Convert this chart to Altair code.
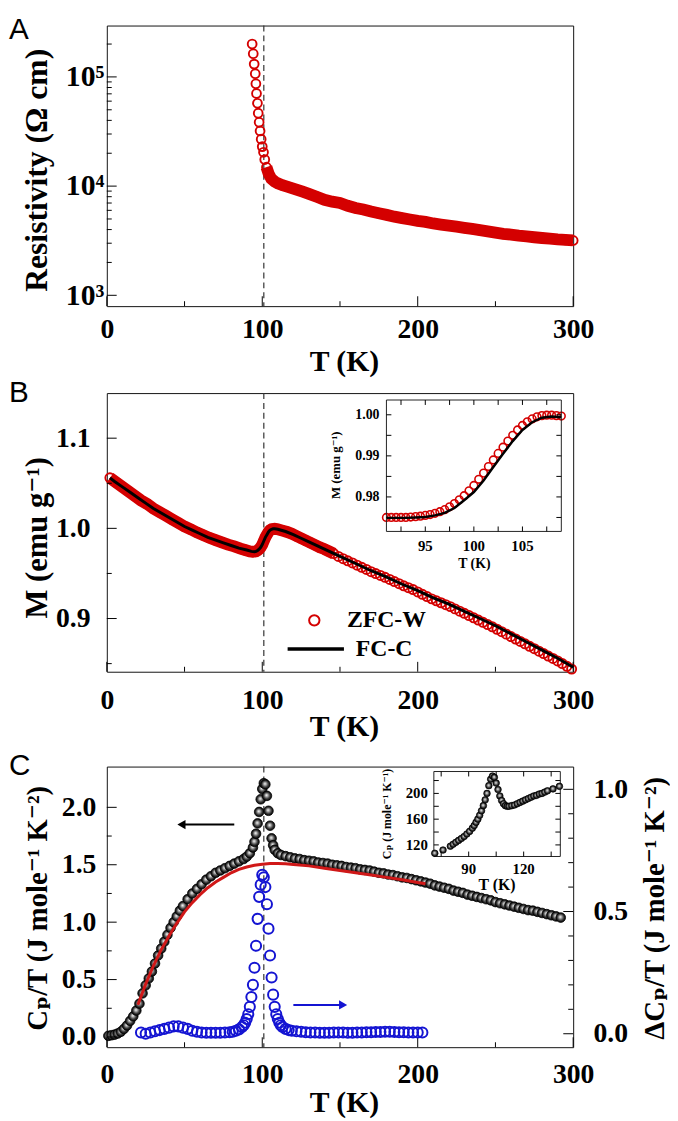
import altair as alt
import pandas as pd

SERIF = "Liberation Serif, DejaVu Serif, DejaVu Sans"
SANS = "Liberation Sans, DejaVu Sans"
RED = "#d40000"
FIT_RED = "#d01818"
BLUE = "#1414d2"

# ===================== Panel A : resistivity =====================
rho_T = [93.5, 94.2, 94.8, 95.5, 95.9, 96.3, 96.9, 97.4, 98.0, 98.6, 99.3, 100.0, 100.8, 101.6, 102.7, 104.1, 105.8,
         108, 110, 113, 116, 119, 122, 126, 130,
         135, 140, 145, 150, 155, 160, 165, 170, 175, 180, 185, 190, 195, 200, 205, 210, 215, 220, 225, 230,
         235, 240, 245, 250, 255, 260, 265, 270, 275, 280, 285, 290, 295, 300]
rho_val = [200000, 163000, 131000, 107000, 86500, 70600, 57300, 46500, 38400, 32000, 26900, 23000, 20400, 17500,
           14900, 13000, 11700,
           11000, 10600, 10200, 9900, 9600, 9300, 8900, 8500,
           8000, 7500, 7200, 7000, 6600, 6300, 6100, 5850, 5650, 5450, 5250, 5100, 4950, 4800, 4700, 4550, 4450,
           4350, 4250, 4150, 4050, 3950, 3850, 3750, 3650, 3600, 3520, 3460, 3400, 3350, 3300, 3250, 3220, 3180]

# ===================== Panel B : magnetisation =====================
zfc_pairs = [(2, 1.056), (6, 1.051), (10, 1.046), (14, 1.041), (18, 1.036), (22, 1.031), (26, 1.027), (30, 1.022),
             (34, 1.018), (38, 1.014), (42, 1.010), (46, 1.006), (50, 1.002), (54, 0.999), (58, 0.9955),
             (62, 0.9925), (66, 0.9895), (70, 0.987), (74, 0.9845), (78, 0.982), (82, 0.980), (86, 0.9775),
             (89, 0.976), (92, 0.9745), (94, 0.974), (96, 0.9745), (97, 0.9755), (98, 0.977), (99, 0.979),
             (100, 0.982), (101, 0.986), (102, 0.990), (103, 0.993), (104, 0.996), (105, 0.998), (106, 0.999),
             (108, 0.9995), (110, 0.999), (113, 0.9975), (116, 0.996), (119, 0.994), (122, 0.9915), (125, 0.989),
             (128, 0.9865), (131, 0.984), (134, 0.9815), (137, 0.979), (140, 0.977), (143, 0.9745), (146, 0.972),
             (149, 0.9688), (152, 0.9664), (155, 0.964), (158, 0.9616), (161, 0.9592), (164, 0.9568),
             (167, 0.9544), (170, 0.952), (173, 0.9499), (176, 0.9478), (179, 0.9457), (182, 0.9434),
             (185, 0.941), (188, 0.9386), (191, 0.9363), (194, 0.9342), (197, 0.9321), (200, 0.9295),
             (203, 0.9269), (206, 0.9243), (209, 0.9218), (212, 0.9196), (215, 0.9175), (218, 0.9154),
             (221, 0.9132), (224, 0.9107), (227, 0.9082), (230, 0.9058), (233, 0.9033), (236, 0.9008),
             (239, 0.8983), (242, 0.8958), (245, 0.8933), (248, 0.8908), (251, 0.8881), (254, 0.8854),
             (257, 0.8827), (260, 0.880), (263, 0.8773), (266, 0.8746), (269, 0.8719), (272, 0.8692),
             (275, 0.8665), (278, 0.8638), (281, 0.8611), (284, 0.8584), (287, 0.8557), (290, 0.853),
             (293, 0.850), (296, 0.847), (299, 0.844)]
fc_pairs = [(2, 1.056), (5, 1.052), (10, 1.046), (15, 1.040), (20, 1.034), (25, 1.028), (30, 1.022), (35, 1.017),
            (40, 1.012), (45, 1.007), (50, 1.002), (55, 0.998), (60, 0.994), (65, 0.990), (70, 0.987),
            (75, 0.984), (80, 0.981), (85, 0.978), (90, 0.976), (93, 0.9745), (95, 0.974), (96, 0.9745),
            (97, 0.9755), (98, 0.977), (99, 0.979), (100, 0.982), (101, 0.986), (102, 0.990), (103, 0.993),
            (104, 0.996), (105, 0.998), (106, 0.999), (107, 0.9995), (108, 0.9995), (110, 0.999), (115, 0.9965),
            (120, 0.993), (125, 0.989), (130, 0.985), (140, 0.977), (150, 0.969), (160, 0.961), (170, 0.953),
            (180, 0.946), (190, 0.938), (200, 0.931), (210, 0.923), (220, 0.916), (230, 0.908), (240, 0.900),
            (250, 0.892), (260, 0.883), (270, 0.874), (280, 0.865), (290, 0.856), (300, 0.846)]
insB_zfc_pairs = [(91, 0.9750), (91.5, 0.9750), (92, 0.9750), (92.5, 0.9750), (93, 0.9750), (93.5, 0.9751),
                  (94, 0.9752), (94.5, 0.9753), (95, 0.9755), (95.5, 0.9757), (96, 0.9760), (96.5, 0.9764),
                  (97, 0.9769), (97.5, 0.9776), (98, 0.9784), (98.5, 0.9793), (99, 0.9803), (99.5, 0.9815),
                  (100, 0.9828), (100.5, 0.9843), (101, 0.9858), (101.5, 0.9874), (102, 0.9890), (102.5, 0.9906),
                  (103, 0.9921), (103.5, 0.9936), (104, 0.9950), (104.5, 0.9963), (105, 0.9974), (105.5, 0.9983),
                  (106, 0.9990), (106.5, 0.9995), (107, 0.9998), (107.5, 0.9999), (108, 0.9999), (108.5, 0.9998),
                  (109, 0.9997)]
insB_fc_pairs = [(91, 0.9749), (92, 0.9749), (93, 0.9749), (94, 0.9750), (95, 0.9751), (96, 0.9755), (97, 0.9761),
                 (98, 0.9773), (99, 0.9792), (100, 0.9812), (101, 0.9840), (102, 0.9873), (103, 0.9905),
                 (104, 0.9936), (105, 0.9963), (106, 0.9982), (107, 0.9993), (108, 0.9996), (109, 0.9994)]
legend_labels = ["ZFC-W", "FC-C"]

# ===================== Panel C : specific heat =====================
cp_pairs = [(1, 0.01), (3, 0.015), (5, 0.02), (7, 0.03), (9, 0.045), (11, 0.07), (13, 0.10), (15, 0.14),
            (17, 0.18), (19, 0.23), (21, 0.29), (23, 0.38), (25, 0.45), (27, 0.51), (29, 0.57), (31, 0.64),
            (33, 0.71), (35, 0.77), (37, 0.83), (39, 0.89), (41, 0.95), (43, 1.00), (45, 1.05), (47, 1.10),
            (49, 1.14), (52, 1.20), (55, 1.25), (58, 1.29), (61, 1.33), (64, 1.37), (67, 1.40), (70, 1.43),
            (73, 1.45), (76, 1.47), (79, 1.49), (82, 1.51), (85, 1.53), (88, 1.55), (90, 1.57), (92, 1.60),
            (94, 1.65), (95, 1.70), (96, 1.77), (97, 1.86), (98, 1.96), (99, 2.07), (100, 2.16), (101, 2.21),
            (102, 2.20), (103, 2.10), (104, 1.97), (105, 1.84), (106, 1.73), (107, 1.67), (108, 1.63),
            (110, 1.60), (112, 1.585), (115, 1.575), (118, 1.565), (121, 1.555), (124, 1.55), (127, 1.54),
            (130, 1.535), (133, 1.53), (136, 1.52), (139, 1.515), (142, 1.51), (145, 1.50), (148, 1.495),
            (151, 1.49), (154, 1.48), (157, 1.475), (160, 1.47), (163, 1.46), (166, 1.455), (169, 1.45),
            (172, 1.44), (175, 1.43), (178, 1.425), (181, 1.415), (184, 1.41), (187, 1.40), (190, 1.39),
            (193, 1.385), (196, 1.375), (199, 1.365), (202, 1.355), (205, 1.345), (208, 1.335), (211, 1.32),
            (214, 1.31), (217, 1.30), (220, 1.29), (223, 1.275), (226, 1.265), (229, 1.255), (232, 1.24),
            (235, 1.23), (238, 1.22), (241, 1.21), (244, 1.20), (247, 1.19), (250, 1.175), (253, 1.165),
            (256, 1.155), (259, 1.145), (262, 1.135), (265, 1.125), (268, 1.115), (271, 1.105), (274, 1.10),
            (277, 1.09), (280, 1.08), (283, 1.07), (286, 1.06), (289, 1.05), (292, 1.04)]
fit_pairs = [(20, 0.28), (25, 0.46), (30, 0.62), (35, 0.76), (40, 0.88), (45, 0.99), (50, 1.09), (55, 1.17),
             (60, 1.24), (65, 1.30), (70, 1.35), (75, 1.39), (80, 1.43), (85, 1.46), (90, 1.48), (95, 1.495),
             (100, 1.505), (105, 1.51), (110, 1.51), (115, 1.508), (120, 1.503), (130, 1.49), (140, 1.47),
             (150, 1.45), (160, 1.43), (170, 1.41), (180, 1.39), (190, 1.37), (200, 1.345), (205, 1.335)]
dcp_pairs = [(22, 0.005), (25, 0.0), (28, 0.005), (31, 0.01), (34, 0.015), (37, 0.02), (40, 0.025), (43, 0.03),
             (46, 0.03), (49, 0.025), (52, 0.02), (55, 0.012), (58, 0.008), (61, 0.005), (64, 0.004),
             (67, 0.004), (70, 0.004), (73, 0.004), (76, 0.005), (79, 0.006), (81, 0.008), (83, 0.012),
             (85, 0.018), (87, 0.028), (88, 0.035), (89, 0.045), (90, 0.06), (91, 0.08), (92, 0.11), (93, 0.15),
             (94, 0.20), (95, 0.27), (96, 0.36), (97, 0.47), (98, 0.56), (99, 0.61), (100, 0.65), (101, 0.64),
             (102, 0.60), (103, 0.53), (104, 0.43), (105, 0.32), (106, 0.23), (107, 0.16), (108, 0.11),
             (109, 0.08), (110, 0.06), (111, 0.045), (112, 0.035), (113, 0.028), (115, 0.02), (117, 0.015),
             (119, 0.012), (122, 0.01), (125, 0.008), (128, 0.006), (131, 0.005), (134, 0.005), (137, 0.004),
             (140, 0.004), (143, 0.004), (146, 0.005), (149, 0.005), (152, 0.005), (155, 0.004), (158, 0.004),
             (161, 0.005), (164, 0.005), (167, 0.006), (170, 0.006), (173, 0.007), (176, 0.007), (179, 0.008),
             (182, 0.008), (185, 0.007), (188, 0.006), (191, 0.006), (194, 0.005), (197, 0.005), (200, 0.005),
             (203, 0.005)]
insC_pairs = [(71.5, 107), (76, 112), (80, 118), (81.5, 121), (83, 124), (84.5, 127), (86, 130), (87.5, 133),
              (89, 137), (90.5, 141), (92, 146), (93, 150), (94, 155), (95, 160), (96, 166), (97, 173), (98, 181),
              (99, 190), (100, 200), (101, 212), (102, 222), (103, 227), (104, 225), (105, 216), (106, 206),
              (107, 196), (108, 189), (109, 184), (110, 181), (111, 180), (112, 180), (113.5, 181), (115, 182),
              (116.5, 184), (118, 186), (119.5, 188), (121, 190), (122.5, 192), (124, 194), (125.5, 196),
              (127, 197), (128.5, 199), (130, 200), (131.5, 202), (133, 204), (136, 207), (139.5, 211)]
blk_arrow = [82, 48, 1.85]      # from T, to T, Cp/T level
blue_arrow = [120, 152, 0.118]  # from T, to T, dCp/T level

# ===================== ticks and labels =====================
T_c = [101]
x_major = [0, 100, 200, 300]
x_minor = [50, 150, 250]
A_y_major = [1e3, 1e4, 1e5]
A_y_minor = [2e3, 3e3, 4e3, 5e3, 6e3, 7e3, 8e3, 9e3, 2e4, 3e4, 4e4, 5e4, 6e4, 7e4, 8e4, 9e4, 2e5]
B_y_major = [0.9, 1.0, 1.1]
B_y_minor = [0.85, 0.95, 1.05]
C_y_major = [0.0, 0.5, 1.0, 1.5, 2.0]
C_y_minor = [0.25, 0.75, 1.25, 1.75]
C_r_major = [0.0, 0.5, 1.0]
C_r_minor = [0.1, 0.2, 0.3, 0.4, 0.6, 0.7, 0.8, 0.9]
insB_x_ticks = [92.5, 95, 97.5, 100, 102.5, 105, 107.5]
insB_x_labels = [95, 100, 105]
insB_y_ticks = [0.975, 0.98, 0.985, 0.99, 0.995, 1.0]
insB_y_labels = [0.98, 0.99, 1.00]
insC_x_ticks = [75, 90, 105, 120, 135]
insC_x_labels = [90, 120]
insC_y_ticks = [120, 140, 160, 180, 200, 220]
insC_y_labels = [120, 160, 200]

# ===================== layout =====================
W = 472
HA, HB, HC = 284, 282, 284
IB_X, IB_Y = [283, 460], [140, 7]
IC_X, IC_Y = [331, 459], [91, 5]

sxA = alt.Scale(domain=[0, 300], nice=False, zero=False)
syA = alt.Scale(type="log", domain=[795.6, 295500], nice=False)
sxB = alt.Scale(domain=[0, 300], nice=False, zero=False)
syB = alt.Scale(domain=[0.841, 1.150], nice=False, zero=False)
sxBi = alt.Scale(domain=[91, 109], range=IB_X, nice=False, zero=False)
syBi = alt.Scale(domain=[0.9716, 1.0036], range=IB_Y, nice=False, zero=False)
sxC = alt.Scale(domain=[0, 300], nice=False, zero=False)
syC = alt.Scale(domain=[-0.089, 2.355], nice=False, zero=False)
sxC2 = alt.Scale(domain=[0, 300], nice=False, zero=False)
syC2 = alt.Scale(domain=[-0.055, 1.093], nice=False, zero=False)
sxCi = alt.Scale(domain=[71, 140], range=IC_X, nice=False, zero=False)
syCi = alt.Scale(domain=[102, 234], range=IC_Y, nice=False, zero=False)

ball_fill = alt.RadialGradient(
    gradient="radial",
    stops=[alt.GradientStop(color="#ffffff", offset=0), alt.GradientStop(color="#b8b8b8", offset=0.25),
           alt.GradientStop(color="#3c3c3c", offset=0.65), alt.GradientStop(color="#000000", offset=1)],
    x1=0.45, y1=0.42, r1=0, x2=0.5, y2=0.5, r2=0.5)


def xaxis(pad):
    return alt.Axis(values=x_major, format="d", title="T (K)", labelPadding=pad, titleX=240, titleY=41,
                    titleAlign="center", titleBaseline="top", labelFlush=False, labelOverlap=False)


def yaxis_left(values, fmt, title, pad, ty, expr=None, tsize=30, lsize=28):
    kw = dict(values=values, title=title, labelPadding=pad, titleX=-61, titleY=ty, titleAngle=270,
              titleAlign="center", titleBaseline="alphabetic", labelOverlap=False, titleFontSize=tsize,
              labelFontSize=lsize)
    if expr:
        kw["labelExpr"] = expr
    else:
        kw["format"] = fmt
    return alt.Axis(**kw)


def X(field, sc, ax):
    return alt.X(field, scale=sc, axis=ax)


def Y(field, sc, ax):
    return alt.Y(field, scale=sc, axis=ax)


def xt(vals, sc, ax, y0, y1):
    return alt.Chart(pd.DataFrame({"v": vals})).mark_rule(color="black", strokeWidth=1).encode(
        x=X("v:Q", sc, ax), y=alt.value(y0), y2=alt.value(y1))


def yt(vals, sc, ax, x0, x1):
    return alt.Chart(pd.DataFrame({"v": vals})).mark_rule(color="black", strokeWidth=1).encode(
        y=Y("v:Q", sc, ax), x=alt.value(x0), x2=alt.value(x1))


def txt(s, x, y, size, font=SERIF, weight="bold", align="left", baseline="top", angle=0):
    return alt.Chart(pd.DataFrame({"s": [s]})).mark_text(
        font=font, fontSize=size, fontWeight=weight, align=align, baseline=baseline, angle=angle,
        color="black").encode(x=alt.value(x), y=alt.value(y), text="s:N")


def dashed(sc, ax, H):
    return alt.Chart(pd.DataFrame({"t": T_c})).mark_rule(color="#333333", strokeDash=[6, 4], strokeWidth=1.2).encode(
        x=X("t:Q", sc, ax), y=alt.value(0), y2=alt.value(H))


# ---------------- Panel A ----------------
axA_x = xaxis(10)
axA_y = yaxis_left(A_y_major, None, "Resistivity (Ω cm)", 3, 146, tsize=32, lsize=30,
                   expr="datum.value < 5000 ? '10³' : datum.value < 50000 ? '10⁴' : '10⁵'")
rhoDF = pd.DataFrame({"T": rho_T, "rho": rho_val})
bandA = alt.Chart(rhoDF).transform_filter("datum.T >= 102").mark_line(color=RED, strokeWidth=12).encode(
    x=X("T:Q", sxA, axA_x), y=Y("rho:Q", syA, axA_y))
ptsA = alt.Chart(rhoDF).mark_point(shape="circle", filled=False, color=RED, size=80, strokeWidth=1.9,
                                   opacity=1).encode(x=X("T:Q", sxA, axA_x), y=Y("rho:Q", syA, axA_y))
panelA = alt.layer(
    dashed(sxA, axA_x, HA), bandA, ptsA,
    xt(x_major, sxA, axA_x, HA, HA - 10), xt(x_minor, sxA, axA_x, HA, HA - 5),
    yt(A_y_major, syA, axA_y, 0, 10), yt(A_y_minor, syA, axA_y, 0, 5),
    txt("A", -99, -10, 30, font=SANS, weight="normal"),
).properties(width=W, height=HA)

# ---------------- Panel B ----------------
axB_x = xaxis(15)
axB_y = yaxis_left(B_y_major, ".1f", "M (emu g⁻¹)", 17, 146, tsize=31)
zfcDF = pd.DataFrame(zfc_pairs, columns=["T", "M"])
fcDF = pd.DataFrame(fc_pairs, columns=["T", "M"])
bandB = alt.Chart(zfcDF).transform_filter("datum.T <= 148").mark_line(color=RED, strokeWidth=12).encode(
    x=X("T:Q", sxB, axB_x), y=Y("M:Q", syB, axB_y))
ptsB = alt.Chart(zfcDF).mark_point(shape="circle", filled=False, color=RED, size=85, strokeWidth=1.9,
                                   opacity=1).encode(x=X("T:Q", sxB, axB_x), y=Y("M:Q", syB, axB_y))
lineB = alt.Chart(fcDF).mark_line(color="black", strokeWidth=3).encode(
    x=X("T:Q", sxB, axB_x), y=Y("M:Q", syB, axB_y))
legB_pt = alt.Chart(pd.DataFrame({"s": [legend_labels[0]]})).mark_point(
    shape="circle", filled=False, color=RED, size=110, strokeWidth=2, opacity=1).encode(
    x=alt.value(210), y=alt.value(230))
legB_ln = alt.Chart(pd.DataFrame({"s": [legend_labels[1]]})).mark_rule(color="black", strokeWidth=3.5).encode(
    x=alt.value(183), x2=alt.value(240), y=alt.value(259))
mainB = alt.layer(
    dashed(sxB, axB_x, HB), bandB, ptsB, lineB,
    xt(x_major, sxB, axB_x, HB, HB - 10), xt(x_minor, sxB, axB_x, HB, HB - 5),
    yt(B_y_major, syB, axB_y, 0, 10), yt(B_y_minor, syB, axB_y, 0, 5),
    legB_pt, legB_ln,
    txt(legend_labels[0], 243, 230, 24, baseline="middle"),
    txt(legend_labels[1], 252, 259, 24, baseline="middle"),
    txt("B", -99, -15, 30, font=SANS, weight="normal"),
)

ibZ = pd.DataFrame(insB_zfc_pairs, columns=["T", "M"])
ibF = pd.DataFrame(insB_fc_pairs, columns=["T", "M"])
frameB = alt.Chart(pd.DataFrame({"x0": [91], "x1": [109], "y0": [0.9716], "y1": [1.0036]})).mark_rect(
    filled=False, color="#222222", strokeWidth=1).encode(
    x=X("x0:Q", sxBi, None), x2="x1:Q", y=Y("y0:Q", syBi, None), y2="y1:Q")
insetB = alt.layer(
    alt.Chart(ibZ).mark_point(shape="circle", filled=False, color=RED, size=60, strokeWidth=1.6,
                              opacity=1).encode(x=X("T:Q", sxBi, None), y=Y("M:Q", syBi, None)),
    alt.Chart(ibF).mark_line(color="black", strokeWidth=2.5).encode(
        x=X("T:Q", sxBi, None), y=Y("M:Q", syBi, None)),
    frameB,
    xt(insB_x_ticks, sxBi, None, IB_Y[0], IB_Y[0] - 5), xt(insB_x_ticks, sxBi, None, IB_Y[1], IB_Y[1] + 5),
    yt(insB_y_ticks, syBi, None, IB_X[0], IB_X[0] + 5), yt(insB_y_ticks, syBi, None, IB_X[1], IB_X[1] - 5),
    alt.Chart(pd.DataFrame({"v": insB_x_labels})).mark_text(
        font=SERIF, fontSize=15, fontWeight="bold", baseline="top", color="black").encode(
        x=X("v:Q", sxBi, None), y=alt.value(IB_Y[0] + 8), text=alt.Text("v:Q", format="d")),
    alt.Chart(pd.DataFrame({"v": insB_y_labels})).mark_text(
        font=SERIF, fontSize=14, fontWeight="bold", baseline="middle", align="right", color="black").encode(
        y=Y("v:Q", syBi, None), x=alt.value(IB_X[0] - 7), text=alt.Text("v:Q", format=".2f")),
    txt("T (K)", 372, 166, 14, align="center"),
    txt("M (emu g⁻¹)", 232, 73, 13, align="center", baseline="middle", angle=270),
)
panelB = alt.layer(mainB, insetB).resolve_scale(x="independent", y="independent").properties(
    width=W, height=HB)

# ---------------- Panel C ----------------
axC_x = xaxis(14)
axC_y = yaxis_left(C_y_major, ".1f", "Cₚ/T (J mole⁻¹ K⁻²)", 11, 143, tsize=29)
axC_r = alt.Axis(orient="right", values=C_r_major, format=".1f", title="ΔCₚ/T (J mole⁻¹ K⁻²)", labelPadding=20,
                 labelAlign="left", titleX=91, titleY=143, titleAngle=270, titleAlign="center",
                 titleBaseline="alphabetic", labelOverlap=False, titleFontSize=29)
cpDF = pd.DataFrame(cp_pairs, columns=["T", "v"])
fitDF = pd.DataFrame(fit_pairs, columns=["T", "v"])
dcpDF = pd.DataFrame(dcp_pairs, columns=["T", "v"])
icDF = pd.DataFrame(insC_pairs, columns=["T", "cp"])

ballsC = alt.Chart(cpDF).mark_point(shape="circle", filled=True, fill=ball_fill, stroke="#000000",
                                    strokeWidth=0.8, size=95, opacity=1).encode(
    x=X("T:Q", sxC, axC_x), y=Y("v:Q", syC, axC_y))
fitC = alt.Chart(fitDF).mark_line(color=FIT_RED, strokeWidth=3).encode(
    x=X("T:Q", sxC, axC_x), y=Y("v:Q", syC, axC_y))
blkA = pd.DataFrame({"x0": [blk_arrow[0]], "x1": [blk_arrow[1]], "y": [blk_arrow[2]]})
arrowC = alt.Chart(blkA).mark_rule(color="black", strokeWidth=2).encode(
    x=X("x0:Q", sxC, axC_x), x2="x1:Q", y=Y("y:Q", syC, axC_y))
headC = alt.Chart(blkA).mark_point(shape="triangle-left", filled=True, color="black", size=90, opacity=1).encode(
    x=X("x1:Q", sxC, axC_x), y=Y("y:Q", syC, axC_y))
spacer = alt.Chart(pd.DataFrame({"s": [0]})).mark_rule(opacity=0).encode(
    x=alt.value(0), y=alt.value(-23), y2=alt.value(0))
mainC = alt.layer(
    dashed(sxC, axC_x, HC), ballsC, fitC, arrowC, headC,
    xt(x_major, sxC, axC_x, HC, HC - 10), xt(x_minor, sxC, axC_x, HC, HC - 5),
    yt(C_y_major, syC, axC_y, 0, 10), yt(C_y_minor, syC, axC_y, 0, 5),
    txt("C", -99, -15, 30, font=SANS, weight="normal"), spacer,
)

bluA = pd.DataFrame({"x0": [blue_arrow[0]], "x1": [blue_arrow[1]], "y": [blue_arrow[2]]})
rightC = alt.layer(
    alt.Chart(dcpDF).mark_point(shape="circle", filled=False, color=BLUE, size=105, strokeWidth=2,
                                opacity=1).encode(x=X("T:Q", sxC2, None), y=Y("v:Q", syC2, axC_r)),
    alt.Chart(bluA).mark_rule(color=BLUE, strokeWidth=2).encode(
        x=X("x0:Q", sxC2, None), x2="x1:Q", y=Y("y:Q", syC2, axC_r)),
    alt.Chart(bluA).mark_point(shape="triangle-right", filled=True, color=BLUE, size=90, opacity=1).encode(
        x=X("x1:Q", sxC2, None), y=Y("y:Q", syC2, axC_r)),
    yt(C_r_major, syC2, axC_r, W, W - 10), yt(C_r_minor, syC2, axC_r, W, W - 5),
)

frameC = alt.Chart(pd.DataFrame({"x0": [71], "x1": [140], "y0": [102], "y1": [234]})).mark_rect(
    filled=False, color="#222222", strokeWidth=1).encode(
    x=X("x0:Q", sxCi, None), x2="x1:Q", y=Y("y0:Q", syCi, None), y2="y1:Q")
insetC = alt.layer(
    frameC,
    alt.Chart(icDF).mark_point(shape="circle", filled=True, fill=ball_fill, stroke="#000000", strokeWidth=0.7,
                               size=45, opacity=1).encode(x=X("T:Q", sxCi, None), y=Y("cp:Q", syCi, None)),
    xt(insC_x_ticks, sxCi, None, IC_Y[0], IC_Y[0] - 5), xt(insC_x_ticks, sxCi, None, IC_Y[1], IC_Y[1] + 5),
    yt(insC_y_ticks, syCi, None, IC_X[0], IC_X[0] + 5), yt(insC_y_ticks, syCi, None, IC_X[1], IC_X[1] - 5),
    alt.Chart(pd.DataFrame({"v": insC_x_labels})).mark_text(
        font=SERIF, fontSize=15, fontWeight="bold", baseline="top", color="black").encode(
        x=X("v:Q", sxCi, None), y=alt.value(IC_Y[0] + 6), text=alt.Text("v:Q", format="d")),
    alt.Chart(pd.DataFrame({"v": insC_y_labels})).mark_text(
        font=SERIF, fontSize=15, fontWeight="bold", baseline="middle", align="right", color="black").encode(
        y=Y("v:Q", syCi, None), x=alt.value(IC_X[0] - 6), text=alt.Text("v:Q", format="d")),
    txt("T (K)", 395, 112, 16, align="center"),
    txt("Cₚ (J mole⁻¹ K⁻¹)", 284, 48, 12, align="center", baseline="middle", angle=270),
)
panelC = alt.layer(mainC, rightC, insetC).resolve_scale(x="independent", y="independent").properties(
    width=W, height=HC)

chart = alt.vconcat(panelA, panelB, panelC, spacing=0).properties(
    padding={"left": 0, "top": 0, "right": 0, "bottom": 0}
).configure_view(stroke="#111111", strokeWidth=1).configure_axis(
    labelFont=SERIF, titleFont=SERIF, labelFontSize=28, titleFontSize=30, labelFontWeight="bold",
    titleFontWeight="bold", labelColor="black", titleColor="black", ticks=False, tickSize=0, domain=False,
    grid=False)

chart.save("out.html", embed_options={"renderer": "svg", "actions": False})
